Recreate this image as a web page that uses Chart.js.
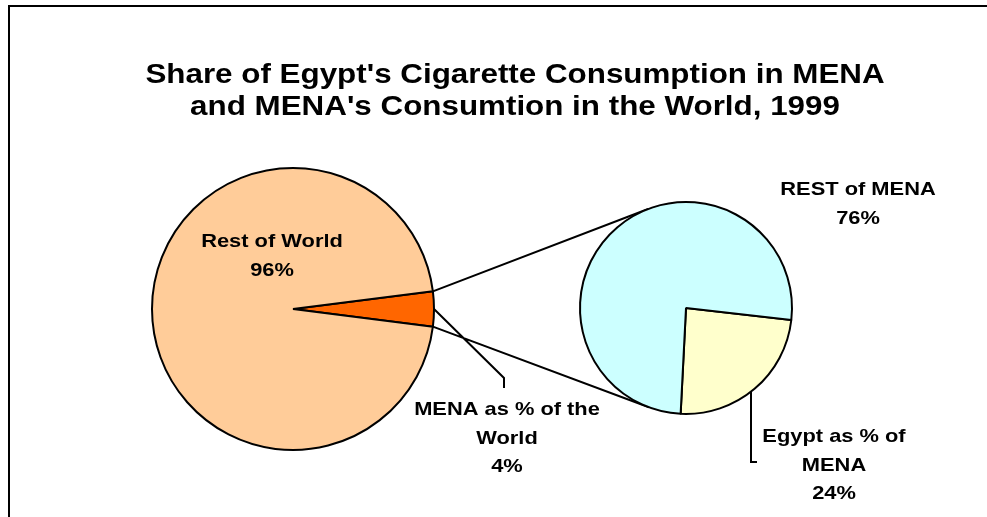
<!DOCTYPE html>
<html><head><meta charset="utf-8">
<script src="https://cdn.jsdelivr.net/npm/chart.js@4/dist/chart.umd.min.js"></script>
<style>
html,body{margin:0;padding:0;background:#fff;overflow:hidden}
#wrap{position:relative;width:987px;height:517px}
#main{position:absolute;left:0;top:0}
#sub{position:absolute;left:576px;top:198px}
</style></head><body>
<div id="wrap">
<canvas id="main" width="987" height="517"></canvas>
<canvas id="sub" width="220" height="220"></canvas>
</div>
<script>
const titleLines = ["Share of Egypt's Cigarette Consumption in MENA", "and MENA's Consumtion in the World, 1999"];
const worldCategories = ["MENA as % of the World", "Rest of World"];
const worldLabelLines = [["MENA as % of the", "World"], ["Rest of World"]];
const worldValues = [4, 96];
const menaCategories = ["Egypt as % of MENA", "REST of MENA"];
const menaLabelLines = [["Egypt as % of", "MENA"], ["REST of MENA"]];
const menaValues = [24, 76];
const worldColors = ['#FF6600', '#FFCC99'];
const menaColors = ['#FFFFCC', '#CCFFFF'];

const FONT = '"Liberation Sans", Arial, sans-serif';

function stretchText(ctx, text, cx, cy, size, sx) {
  ctx.save();
  ctx.font = 'bold ' + size + 'px ' + FONT;
  ctx.fillStyle = '#000';
  ctx.textAlign = 'center';
  ctx.textBaseline = 'middle';
  ctx.translate(cx, cy);
  ctx.scale(sx, 1);
  ctx.fillText(text, 0, 0);
  ctx.restore();
}
function drawLabel(ctx, lines, value, cx, y0, lh) {
  const all = lines.concat([value + '%']);
  all.forEach((t, i) => stretchText(ctx, t, cx, y0 + i * lh, 19, 1.15));
}

const subChart = new Chart(document.getElementById('sub'), {
  type: 'pie',
  data: { labels: menaCategories, datasets: [{ data: menaValues, backgroundColor: menaColors, borderColor: '#000', borderWidth: 2 }] },
  options: {
    responsive: false, animation: false, rotation: 96.5,
    layout: { padding: 3 },
    plugins: { legend: { display: false }, tooltip: { enabled: false }, title: { display: false } }
  }
});

const overlay = {
  id: 'overlay',
  afterDraw(chart) {
    const ctx = chart.ctx;
    ctx.save();
    ctx.strokeStyle = '#000'; ctx.lineWidth = 2;
    ctx.strokeRect(9, 6, 990, 520);
    ctx.restore();
    stretchText(ctx, titleLines[0], 515, 75, 28, 1.12);
    stretchText(ctx, titleLines[1], 515, 107, 28, 1.12);

    const arc = chart.getDatasetMeta(0).data[0];
    const R = arc.outerRadius;
    const P1 = [arc.x + R * Math.cos(arc.startAngle), arc.y + R * Math.sin(arc.startAngle)];
    const P2 = [arc.x + R * Math.cos(arc.endAngle), arc.y + R * Math.sin(arc.endAngle)];
    const sc = subChart.canvas;
    const sArc = subChart.getDatasetMeta(0).data[0];
    const C = [sArc.x + sc.offsetLeft, sArc.y + sc.offsetTop];
    const r = sArc.outerRadius;
    function tangents(P) {
      const dx = P[0] - C[0], dy = P[1] - C[1];
      const d = Math.hypot(dx, dy), a = Math.atan2(dy, dx), b = Math.acos(r / d);
      return [[C[0] + r * Math.cos(a + b), C[1] + r * Math.sin(a + b)], [C[0] + r * Math.cos(a - b), C[1] + r * Math.sin(a - b)]];
    }
    const t1 = tangents(P1).sort((u, v) => u[1] - v[1])[0];
    const t2 = tangents(P2).sort((u, v) => v[1] - u[1])[0];
    ctx.save();
    ctx.strokeStyle = '#000'; ctx.lineWidth = 2;
    ctx.beginPath();
    ctx.moveTo(P1[0], P1[1]); ctx.lineTo(t1[0], t1[1]);
    ctx.moveTo(P2[0], P2[1]); ctx.lineTo(t2[0], t2[1]);
    const mid = (arc.startAngle + arc.endAngle) / 2;
    const M = [arc.x + R * Math.cos(mid), arc.y + R * Math.sin(mid)];
    ctx.moveTo(M[0], M[1]); ctx.lineTo(504, 378); ctx.lineTo(504, 388);
    const smid = (sArc.startAngle + sArc.endAngle) / 2;
    const E = [C[0] + r * Math.cos(smid), C[1] + r * Math.sin(smid)];
    ctx.moveTo(751, E[1]); ctx.lineTo(751, 462); ctx.lineTo(757, 462);
    ctx.stroke();
    ctx.restore();

    drawLabel(ctx, worldLabelLines[1], worldValues[1], 272, 242, 28.5);
    drawLabel(ctx, worldLabelLines[0], worldValues[0], 507, 410, 28.5);
    drawLabel(ctx, menaLabelLines[1], menaValues[1], 858, 190, 28.5);
    drawLabel(ctx, menaLabelLines[0], menaValues[0], 834, 437, 28.5);
  }
};

const mainChart = new Chart(document.getElementById('main'), {
  type: 'pie',
  data: { labels: worldCategories, datasets: [{ data: worldValues, backgroundColor: worldColors, borderColor: '#000', borderWidth: 2 }] },
  options: {
    responsive: false, animation: false, rotation: 82.8,
    layout: { padding: { left: 151, right: 552, top: 167, bottom: 66 } },
    plugins: { legend: { display: false }, tooltip: { enabled: false }, title: { display: false } }
  },
  plugins: [overlay]
});
</script>
</body></html>
